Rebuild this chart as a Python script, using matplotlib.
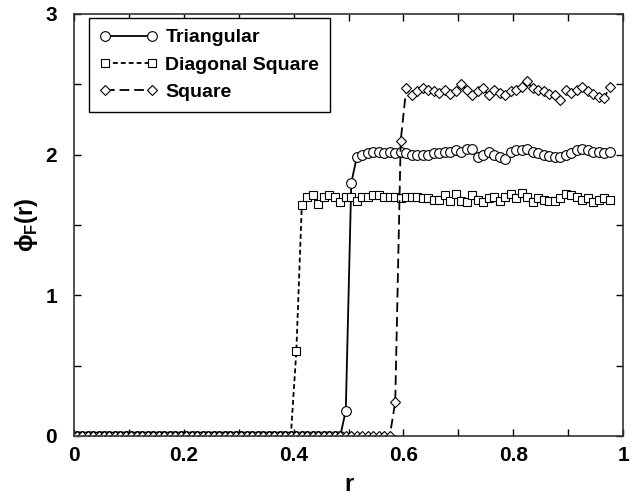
import matplotlib
matplotlib.use('Agg')
import matplotlib.pyplot as plt
import numpy as np

# r grid (one point every 0.01)
r = np.arange(0.005, 0.98, 0.01)

# values above the zero plateau
tri_rise = [0.18, 1.80, 1.98]
tri_top = [2.00, 2.01, 2.02, 2.02, 2.01, 2.02, 2.01, 2.02, 2.01, 2.00,
           2.00, 2.00, 2.00, 2.01, 2.01, 2.02, 2.02, 2.03, 2.02, 2.04,
           2.04, 1.98, 2.00, 2.02, 2.00, 1.98, 1.97, 2.02, 2.03, 2.03,
           2.04, 2.02, 2.01, 2.00, 1.99, 1.98, 1.98, 2.00, 2.01, 2.03,
           2.04, 2.03, 2.02, 2.02, 2.01, 2.02]

diag_rise = [0.60, 1.64]
diag_top = [1.70, 1.71, 1.65, 1.70, 1.71, 1.70, 1.66, 1.70, 1.70, 1.67,
            1.70, 1.70, 1.71, 1.71, 1.70, 1.70, 1.70, 1.69, 1.70, 1.70,
            1.70, 1.69, 1.69, 1.68, 1.68, 1.71, 1.67, 1.72, 1.67, 1.66,
            1.71, 1.68, 1.66, 1.69, 1.70, 1.67, 1.70, 1.72, 1.69, 1.73,
            1.70, 1.66, 1.69, 1.68, 1.67, 1.67, 1.69, 1.72, 1.71, 1.70,
            1.68, 1.69, 1.66, 1.68, 1.69, 1.68]

sq_rise = [0.24, 2.10]
sq_top = [2.47, 2.42, 2.45, 2.47, 2.46, 2.45, 2.44, 2.46, 2.43, 2.45,
          2.50, 2.46, 2.42, 2.45, 2.47, 2.42, 2.46, 2.44, 2.42, 2.45,
          2.46, 2.48, 2.52, 2.47, 2.46, 2.45, 2.43, 2.42, 2.39, 2.46,
          2.44, 2.46, 2.48, 2.45, 2.43, 2.41, 2.40, 2.48]


def full(rise, top):
    vals = list(rise) + list(top)
    return np.array([0.0] * (len(r) - len(vals)) + vals)


tri = full(tri_rise, tri_top)
diag = full(diag_rise, diag_top)
sq = full(sq_rise, sq_top)

plt.rcParams['font.family'] = ['Liberation Sans', 'DejaVu Sans']
plt.rcParams['font.weight'] = 'bold'
plt.rcParams['mathtext.fontset'] = 'custom'
plt.rcParams['mathtext.rm'] = 'Liberation Sans:bold'
plt.rcParams['lines.scale_dashes'] = False

fig = plt.figure(figsize=(6.36, 4.97), dpi=100)
ax = fig.add_axes([0.116, 0.123, 0.864, 0.849])

mk = dict(markerfacecolor='white', markeredgecolor='black', markeredgewidth=0.8)
ax.plot(r, tri, color='black', lw=1.3, marker='o', markersize=7, label='Triangular', **mk)
ax.plot(r, diag, color='black', lw=1.3, dashes=(3.5, 2.2), marker='s', markersize=5.5,
        label='Diagonal Square', **mk)
ax.plot(r, sq, color='black', lw=1.3, dashes=(7, 3.5), marker='D', markersize=5.5,
        label='Square', **mk)

ax.set_xlim(0, 1)
ax.set_ylim(0, 3)
ax.set_xticks([0, 0.2, 0.4, 0.6, 0.8, 1])
ax.set_xticklabels(['0', '0.2', '0.4', '0.6', '0.8', '1'])
ax.set_xticks(np.arange(0.1, 1, 0.2), minor=True)
ax.set_yticks([0, 1, 2, 3])
ax.set_yticks([0.5, 1.5, 2.5], minor=True)
ax.tick_params(which='both', direction='in', top=True, right=True, length=5,
               width=1, labelsize=15)
ax.tick_params(axis='x', pad=7)
ax.tick_params(axis='y', pad=12)
for s in ax.spines.values():
    s.set_linewidth(1.2)
    s.set_color('#333333')

ax.set_xlabel('r', fontsize=17, fontweight='bold', labelpad=6)
ax.set_ylabel('\u03d5$_\\mathrm{F}$(r)', fontsize=17, fontweight='bold', labelpad=4)

leg = ax.legend(loc='upper left', bbox_to_anchor=(0.027, 0.99), borderaxespad=0,
                fontsize=14, numpoints=2, handlelength=3.0, handletextpad=0.4,
                fancybox=False, framealpha=1, edgecolor='black', borderpad=0.55,
                labelspacing=0.5)
leg.get_frame().set_linewidth(1)

plt.savefig('out.png', dpi=100)
